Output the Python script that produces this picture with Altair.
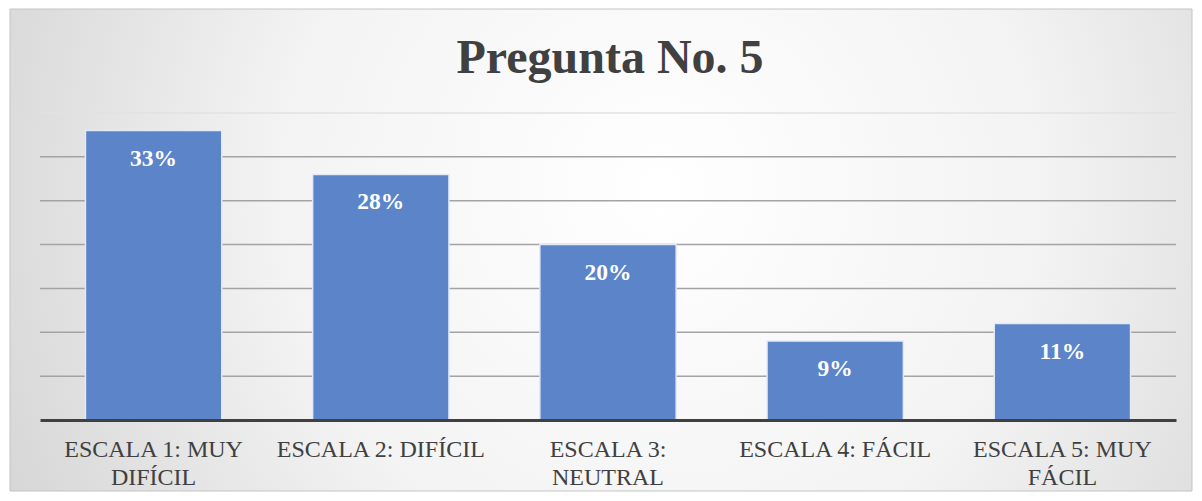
import altair as alt
import pandas as pd

categories = ["ESCALA 1: MUY DIFÍCIL", "ESCALA 2: DIFÍCIL", "ESCALA 3: NEUTRAL",
              "ESCALA 4: FÁCIL", "ESCALA 5: MUY FÁCIL"]
label_lines = [["ESCALA 1: MUY", "DIFÍCIL"], ["ESCALA 2: DIFÍCIL"], ["ESCALA 3:", "NEUTRAL"],
               ["ESCALA 4: FÁCIL"], ["ESCALA 5: MUY", "FÁCIL"]]
values = [0.33, 0.28, 0.20, 0.09, 0.11]
grid_values = [0.05, 0.10, 0.15, 0.20, 0.25, 0.30, 0.35]
title_text = "Pregunta No. 5"

W, H = 1136, 307
PAD = {"left": 32, "top": 105, "right": 18, "bottom": 72}

df = pd.DataFrame({"cat": categories, "val": values})
grid_df = pd.DataFrame({"g": grid_values})

# label expression for multi-line labels
expr = "''"
for c, lines in reversed(list(zip(categories, label_lines))):
    arr = "[" + ",".join("'" + l + "'" for l in lines) + "]"
    expr = f"datum.label == '{c}' ? {arr} : ({expr})"

serif = "Liberation Serif"

bg = alt.Chart(alt.Data(values=[{}])).mark_rect(
    fill=alt.RadialGradient(
        gradient="radial",
        stops=[alt.GradientStop(color="#FFFFFF", offset=0),
               alt.GradientStop(color="#F3F3F3", offset=0.45),
               alt.GradientStop(color="#CBCBCB", offset=1)],
        x1=0.55, y1=0.45, r1=0, x2=0.55, y2=0.45, r2=0.72),
    stroke="#C4C4C4", strokeWidth=1,
).encode(
    x=alt.value(-PAD["left"] + 2), x2=alt.value(W + PAD["right"] - 2),
    y=alt.value(-PAD["top"] + 1), y2=alt.value(H + PAD["bottom"] - 1),
)

title = alt.Chart(alt.Data(values=[{"t": title_text}])).mark_text(
    font=serif, fontSize=48, fontWeight="bold", color="#404040",
    align="center", baseline="alphabetic",
).encode(
    x=alt.value(W / 2 + 2), y=alt.value(-40), text="t:N",
)

yscale = alt.Scale(domain=[0, 0.35], nice=False)

grid = alt.Chart(grid_df).mark_rule(strokeWidth=1.5).encode(
    y=alt.Y("g:Q", scale=yscale, axis=None),
    color=alt.condition("datum.g >= 0.35", alt.value("#E2E2E2"), alt.value("#A3A3A3")),
)

xenc = alt.X("cat:N", sort=categories, title=None,
             scale=alt.Scale(paddingInner=0.4, paddingOuter=0.2),
             axis=alt.Axis(labelExpr=expr, labelAngle=0, labelFont=serif, labelFontSize=24,
                           labelColor="#404040", labelPadding=17, labelLineHeight=28,
                           labelBaseline="top",
                           ticks=False, domainColor="#404040", domainWidth=3, zindex=1,
                           labelLimit=300))

bars = alt.Chart(df).mark_bar(color="#5B84C9", stroke="#E3EAF6", strokeWidth=1.5).encode(
    x=xenc,
    y=alt.Y("val:Q", scale=yscale, axis=None),
)

text = alt.Chart(df).mark_text(font=serif, fontSize=23.5, fontWeight="bold", color="white",
                               baseline="middle", dy=28).encode(
    x=alt.X("cat:N", sort=categories),
    y=alt.Y("val:Q", scale=yscale),
    text=alt.Text("val:Q", format=".0%"),
)

chart = alt.layer(bg, title, grid, bars, text).properties(
    width=W, height=H,
    autosize=alt.AutoSizeParams(type="none"),
    padding=PAD,
).configure_view(stroke=None).configure(background="#FFFFFF")

chart.save("out.html", embed_options={"renderer": "svg", "actions": False})
